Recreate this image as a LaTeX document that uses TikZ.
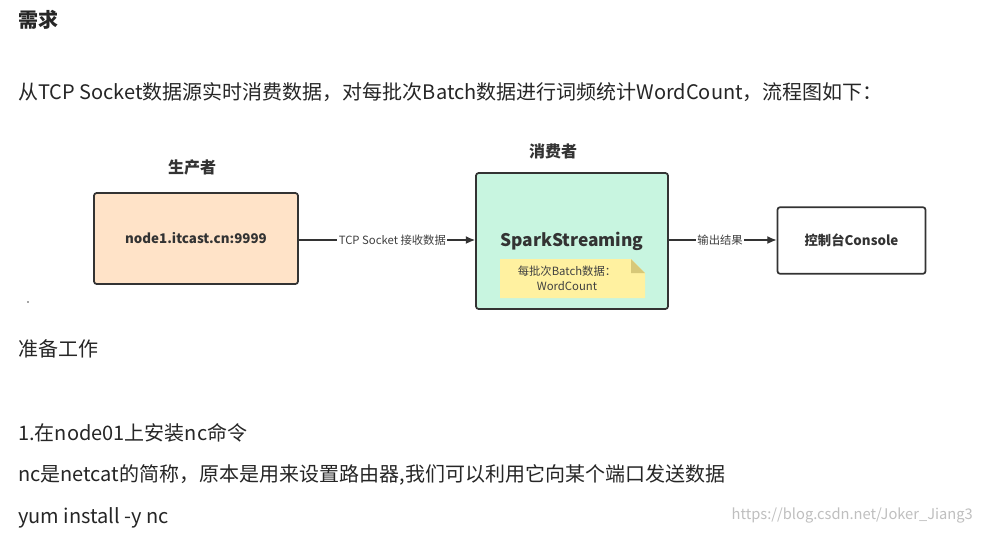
\documentclass[tikz,border=0pt]{standalone}
\usepackage{fontspec}
\setmainfont{Noto Sans CJK SC}
\usetikzlibrary{arrows.meta}
\definecolor{bord}{HTML}{333333}
\definecolor{orangefill}{RGB}{255,227,200}
\definecolor{greenfill}{RGB}{200,245,224}
\definecolor{notefill}{RGB}{255,241,160}
\definecolor{notefold}{RGB}{215,200,120}
\tikzset{
  box/.style={draw=bord,line width=1.3pt,rounded corners=2pt,minimum height=#1},
  txt/.style={anchor=west,inner sep=0,font=\fontsize{15}{18}\selectfont,text=black!85},
  conn/.style={draw=bord,line width=1pt,-{Latex[length=7pt,width=6pt]}},
  lab/.style={fill=white,inner sep=1pt,font=\fontsize{8.5}{10}\selectfont,text=black!75},
  ttl/.style={font=\fontsize{12}{14}\selectfont\bfseries,text=black!80}
}
\begin{document}
\begin{tikzpicture}[x=0.75pt,y=-0.75pt]
\useasboundingbox[fill=white] (0,0) rectangle (982,533);
\node[txt,font=\fontsize{15}{18}\selectfont\bfseries] (t1) at (18,20) {需求};
\node[txt] (t2) at (18,92) {从TCP Socket数据源实时消费数据，对每批次Batch数据进行词频统计WordCount，流程图如下：};
\node[ttl] (h1) at (192,167) {生产者};
\node[ttl] (h2) at (553,151) {消费者};
\node[box=68.25pt,minimum width=153pt,fill=orangefill] (p) at (196,238.5) {};
\node[font=\fontsize{10}{12}\selectfont\bfseries,text=black!80] at (p) {node1.itcast.cn:9999};
\node[box=102pt,minimum width=144pt,fill=greenfill] (s) at (572,241) {};
\node[font=\fontsize{13}{15}\selectfont\bfseries,text=black!80] (st) at (572,241) {SparkStreaming};
\fill[notefill] (500,259) -- (631,259) -- (645,273) -- (645,298) -- (500,298) -- cycle;
\fill[notefold] (631,259) -- (645,273) -- (631,273) -- cycle;
\node[align=center,font=\fontsize{8.5}{11}\selectfont,text=black!75] (note) at (567,278) {每批次Batch数据：\\WordCount};
\node[box=50pt,minimum width=111pt,fill=white] (c) at (851.5,240.5) {};
\node[font=\fontsize{10}{12}\selectfont\bfseries,text=black!80] at (c) {控制台Console};
\draw[conn] (p.east |- 0,240) -- (s.west |- 0,240) node[lab,midway,xshift=4pt] {TCP Socket 接收数据};
\draw[conn] (s.east |- 0,240) -- (c.west |- 0,240) node[lab,midway,xshift=-2pt] {输出结果};
\fill[black!70] (28,302) circle (0.8);
\node[txt] (t3) at (18,349) {准备工作};
\node[txt] (t4) at (18,433) {1.在node01上安装nc命令};
\node[txt] (t5) at (18,475) {nc是netcat的简称，原本是用来设置路由器,我们可以利用它向某个端口发送数据};
\node[txt] (t6) at (18,518) {yum install -y nc};
\node[anchor=east,inner sep=0,font=\fontsize{11}{13}\selectfont,text=black!25] (w) at (973,515) {https://blog.csdn.net/Joker\_Jiang3};
\end{tikzpicture}
\end{document}
